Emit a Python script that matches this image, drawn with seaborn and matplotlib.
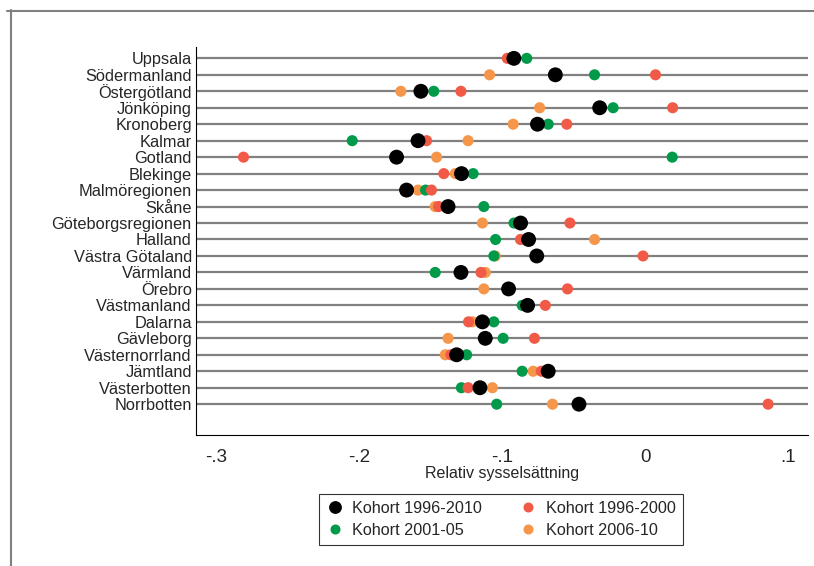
import matplotlib
matplotlib.use("Agg")
import matplotlib.pyplot as plt
from matplotlib.lines import Line2D
import pandas as pd
import seaborn as sns

regions = [
    "Uppsala", "Södermanland", "Östergötland", "Jönköping", "Kronoberg",
    "Kalmar", "Gotland", "Blekinge", "Malmöregionen", "Skåne",
    "Göteborgsregionen", "Halland", "Västra Götaland", "Värmland", "Örebro",
    "Västmanland", "Dalarna", "Gävleborg", "Västernorrland", "Jämtland",
    "Västerbotten", "Norrbotten",
]

kohort_1996_2010 = [-0.092, -0.063, -0.157, -0.032, -0.0755, -0.159, -0.174, -0.1286,
                    -0.167, -0.138, -0.0873, -0.0817, -0.076, -0.129, -0.0957, -0.0824,
                    -0.114, -0.112, -0.132, -0.068, -0.1157, -0.0465]
kohort_1996_2000 = [-0.0966, 0.007, -0.129, 0.019, -0.055, -0.153, -0.281, -0.141,
                    -0.1496, -0.1446, -0.0528, -0.0874, -0.0017, -0.115, -0.0545, -0.070,
                    -0.1237, -0.0776, -0.136, -0.0728, -0.124, 0.0857]
kohort_2001_05 = [-0.083, -0.0356, -0.148, -0.0226, -0.068, -0.205, 0.0187, -0.1205,
                  -0.1537, -0.113, -0.0919, -0.1048, -0.106, -0.147, -0.096, -0.0862,
                  -0.106, -0.0995, -0.125, -0.0862, -0.1287, -0.104]
kohort_2006_10 = [-0.095, -0.109, -0.171, -0.074, -0.0925, -0.124, -0.146, -0.133,
                  -0.159, -0.147, -0.114, -0.0356, -0.105, -0.112, -0.113, -0.084,
                  -0.121, -0.138, -0.140, -0.0785, -0.107, -0.065]

x_ticks = [-0.3, -0.2, -0.1, 0.0, 0.1]
x_tick_labels = ["-.3", "-.2", "-.1", "0", ".1"]

# draw order: orange at the bottom, black on top
series = [
    ("Kohort 2006-10", kohort_2006_10, "#F5964A", 64),
    ("Kohort 2001-05", kohort_2001_05, "#009A4A", 64),
    ("Kohort 1996-2000", kohort_1996_2000, "#F05A46", 64),
    ("Kohort 1996-2010", kohort_1996_2010, "#000000", 115),
]

sns.set_style("white")
plt.rcParams["font.family"] = ["Liberation Sans", "DejaVu Sans"]

fig = plt.figure(figsize=(8.14, 5.66), dpi=100)
ax = fig.add_axes([0.2408, 0.2306, 0.7518, 0.6864])

ypos = list(range(len(regions)))
for y in ypos:
    ax.axhline(y, color="#808080", linewidth=1.6, zorder=1)

handles = {}
for z, (label, values, color, size) in enumerate(series):
    df = pd.DataFrame({"pos": ypos, "value": values})
    sns.scatterplot(
        data=df, x="value", y="pos", color=color, s=size,
        edgecolor="none", linewidth=0, ax=ax, zorder=3 + z, legend=False,
    )
    handles[label] = Line2D([], [], marker="o", linestyle="none", color=color,
                            markersize=8.2 if color == "#000000" else 6.2)

ax.set_xlim(-0.3142, 0.1136)
ax.set_ylim(22.9, -0.69)
ax.set_yticks(ypos)
ax.set_yticklabels(regions, fontsize=11.8)
ax.set_xticks(x_ticks)
ax.set_xticklabels(x_tick_labels, fontsize=13.5)
ax.tick_params(axis="y", length=0, pad=3)
ax.tick_params(axis="x", direction="out", length=6, width=0.8, color="black", pad=4)
ax.set_xlabel("Relativ sysselsättning", fontsize=11.5, labelpad=0)
ax.set_ylabel("")

for side in ["top", "right"]:
    ax.spines[side].set_visible(False)
for side in ["left", "bottom"]:
    ax.spines[side].set_color("black")
    ax.spines[side].set_linewidth(0.8)

order = ["Kohort 1996-2010", "Kohort 2001-05", "Kohort 1996-2000", "Kohort 2006-10"]
leg = fig.legend(
    [handles[k] for k in order], order, ncol=2, loc="center",
    bbox_to_anchor=(0.6155, 0.0822), fontsize=11.7, frameon=True, fancybox=False,
    edgecolor="black", handletextpad=0.6, columnspacing=2.3, borderpad=0.45,
    labelspacing=0.45, handlelength=1.0,
)
leg.get_frame().set_linewidth(0.8)

# outer graph frame (only top and left edges are in view)
fig.add_artist(Line2D([7 / 814, 1.0], [1 - 10.5 / 566, 1 - 10.5 / 566],
                      transform=fig.transFigure, color="#808080", linewidth=1.5))
fig.add_artist(Line2D([10.5 / 814, 10.5 / 814], [1 - 10 / 566, 0.0],
                      transform=fig.transFigure, color="#808080", linewidth=1.5))

fig.savefig("out.png", dpi=100)
plt.close(fig)
